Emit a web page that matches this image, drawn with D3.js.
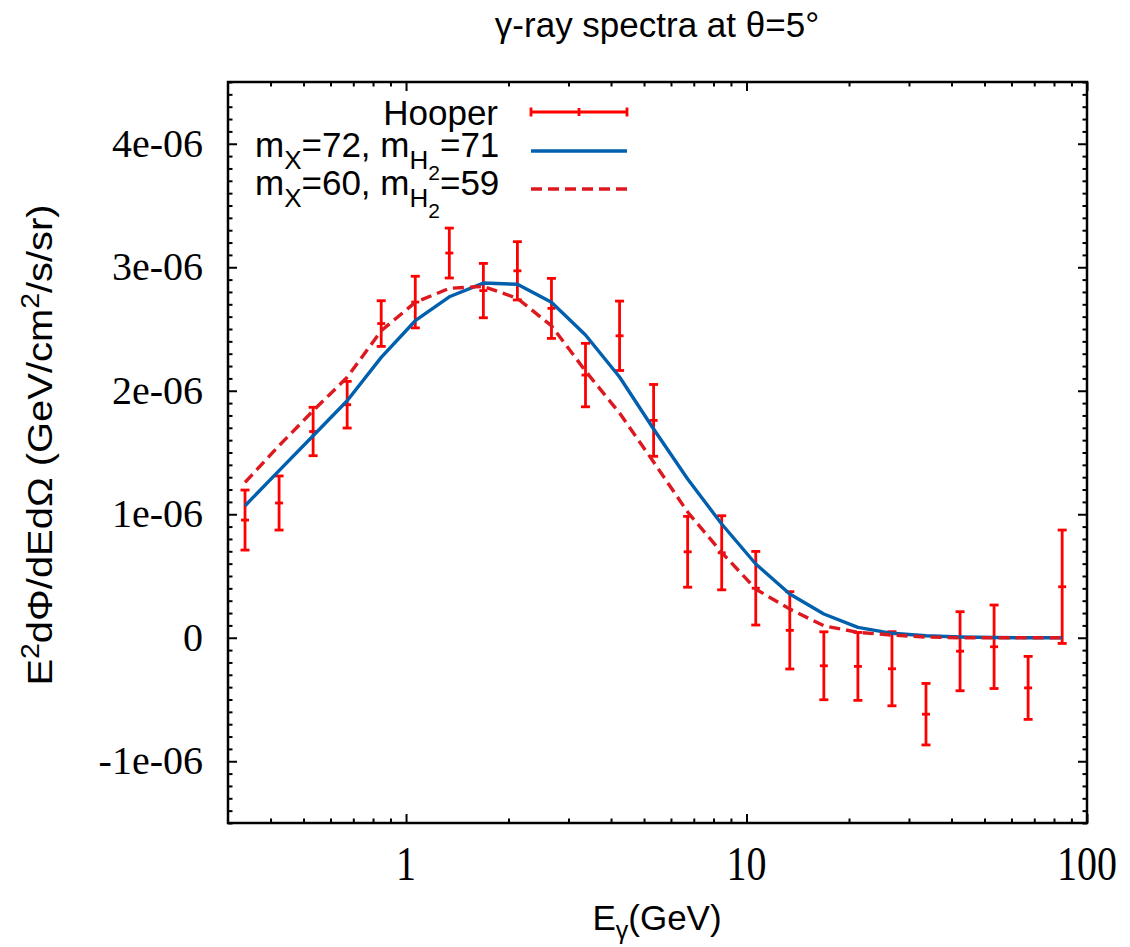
<!DOCTYPE html>
<html>
<head>
<meta charset="utf-8">
<script src="https://cdn.jsdelivr.net/npm/d3@7"></script>
<style>
  body { margin: 0; background: #fff; }
  .sans { font-family: "Liberation Sans", Arial, Helvetica, sans-serif; }
  .serif { font-family: "Liberation Serif", "Times New Roman", serif; }
</style>
</head>
<body>
<svg id="chart"></svg>
<script>
// data (fluxes in units of 1e-6 GeV/cm^2/s/sr)
var energy = [0.3366, 0.4238, 0.5335, 0.6716, 0.8455, 1.0645, 1.3401, 1.687, 2.1238, 2.6738,
              3.366, 4.238, 5.335, 6.716, 8.455, 10.645, 13.40, 16.87, 21.24, 26.74,
              33.66, 42.38, 53.35, 67.16, 84.55];
var hooperFlux = [0.953, 1.091, 1.670, 1.887, 2.544, 2.718, 3.115, 2.811, 2.971, 2.667,
                  2.127, 2.445, 1.760, 0.696, 0.688, 0.401, 0.060, -0.227, -0.232, -0.251,
                  -0.619, -0.109, -0.073, -0.406, 0.413];
var hooperErr = [0.243, 0.219, 0.196, 0.189, 0.185, 0.209, 0.202, 0.220, 0.236, 0.243,
                 0.257, 0.281, 0.291, 0.287, 0.300, 0.298, 0.313, 0.275, 0.275, 0.300,
                 0.249, 0.320, 0.338, 0.255, 0.459];
// m_X=72, m_H2=71
var model72 = [1.069, 1.353, 1.636, 1.919, 2.270, 2.567, 2.761, 2.872, 2.862, 2.716,
               2.451, 2.111, 1.690, 1.285, 0.921, 0.597, 0.354, 0.192, 0.084, 0.036,
               0.016, 0.006, 0.002, 0, 0];
// m_X=60, m_H2=59
var model60 = [1.258, 1.556, 1.838, 2.109, 2.486, 2.716, 2.829, 2.845, 2.748, 2.526,
               2.160, 1.819, 1.423, 1.018, 0.691, 0.394, 0.232, 0.097, 0.044, 0.022,
               0.006, 0, 0, 0, 0];
var unit = 1e-6;

var xMajor = [1, 10, 100];
var xMajorLabels = ["1", "10", "100"];
var xMinor = [0.4, 0.5, 0.6, 0.7, 0.8, 0.9, 2, 3, 4, 5, 6, 7, 8, 9, 20, 30, 40, 50, 60, 70, 80, 90];
var yMajor = [-1e-6, 0, 1e-6, 2e-6, 3e-6, 4e-6];
var yMajorLabels = ["-1e-06", "0", "1e-06", "2e-06", "3e-06", "4e-06"];
var yMinor = d3.range(-15, 46).filter(function(k){ return k % 10 !== 0; }).map(function(k){ return k * 1e-7; });

// basic settings
var width = 1130, height = 947;
var plotLeft = 228, plotRight = 1087, plotTop = 82, plotBottom = 823;
var red = "#ff0000", blue = "#0060ad", darkRed = "#dd181f";

var svg = d3.select("#chart").attr("width", width).attr("height", height);

var x = d3.scaleLog().domain([0.3, 100]).range([plotLeft, plotRight]);
var y = d3.scaleLinear().domain([-1.5e-6, 4.5e-6]).range([plotBottom, plotTop]);

// ticks on all four sides, pointing inward
function tickAxis(axis, vals, size, tx, ty) {
  var g = svg.append("g")
    .attr("transform", "translate(" + tx + "," + ty + ")")
    .call(axis.tickValues(vals).tickSizeInner(-size).tickSizeOuter(0).tickFormat(""));
  g.select(".domain").remove();
  g.selectAll("line").attr("stroke", "#000").attr("stroke-width", 2);
  return g;
}
tickAxis(d3.axisBottom(x), xMinor, 4.5, 0, plotBottom);
tickAxis(d3.axisTop(x), xMinor, 4.5, 0, plotTop);
tickAxis(d3.axisBottom(x), xMajor, 9, 0, plotBottom);
tickAxis(d3.axisTop(x), xMajor, 9, 0, plotTop);
tickAxis(d3.axisLeft(y), yMinor, 4.5, plotLeft, 0);
tickAxis(d3.axisRight(y), yMinor, 4.5, plotRight, 0);
tickAxis(d3.axisLeft(y), yMajor, 9, plotLeft, 0);
tickAxis(d3.axisRight(y), yMajor, 9, plotRight, 0);

// tick labels
svg.append("g").attr("class", "serif")
  .selectAll("text").data(yMajor).enter().append("text")
  .attr("x", plotLeft - 25)
  .attr("y", function(d){ return y(d) + 13; })
  .attr("text-anchor", "end")
  .attr("font-size", 40)
  .text(function(d, i){ return yMajorLabels[i]; });

svg.append("g").attr("class", "serif")
  .selectAll("text").data(xMajor).enter().append("text")
  .attr("transform", function(d){ return "translate(" + x(d) + ",880) scale(1,1.2)"; })
  .attr("text-anchor", "middle")
  .attr("font-size", 40)
  .text(function(d, i){ return xMajorLabels[i]; });

// frame
svg.append("rect")
  .attr("x", plotLeft).attr("y", plotTop)
  .attr("width", plotRight - plotLeft).attr("height", plotBottom - plotTop)
  .attr("fill", "none").attr("stroke", "#000").attr("stroke-width", 2.5);

// Hooper data with error bars
var pts = energy.map(function(e, i){ return {e: e, v: hooperFlux[i] * unit, err: hooperErr[i] * unit}; });
var eb = svg.append("g").attr("stroke", red).attr("stroke-width", 2.8).attr("fill", "none");
var pg = eb.selectAll("g").data(pts).enter().append("g");
pg.append("line")
  .attr("x1", function(d){ return x(d.e); }).attr("x2", function(d){ return x(d.e); })
  .attr("y1", function(d){ return y(d.v - d.err); }).attr("y2", function(d){ return y(d.v + d.err); });
[-1, 1].forEach(function(s){
  pg.append("line")
    .attr("x1", function(d){ return x(d.e) - 4.5; }).attr("x2", function(d){ return x(d.e) + 4.5; })
    .attr("y1", function(d){ return y(d.v + s * d.err); }).attr("y2", function(d){ return y(d.v + s * d.err); });
});
pg.append("line")
  .attr("x1", function(d){ return x(d.e) - 4; }).attr("x2", function(d){ return x(d.e) + 4; })
  .attr("y1", function(d){ return y(d.v); }).attr("y2", function(d){ return y(d.v); });

// model curves
var line = d3.line()
  .x(function(d, i){ return x(energy[i]); })
  .y(function(d){ return y(d * unit); });

svg.append("path").datum(model72)
  .attr("d", line).attr("fill", "none")
  .attr("stroke", blue).attr("stroke-width", 3.4).attr("stroke-linejoin", "round");
svg.append("path").datum(model60)
  .attr("d", line).attr("fill", "none")
  .attr("stroke", darkRed).attr("stroke-width", 3.4).attr("stroke-dasharray", "11,6");

// legend
var lx1 = 531, lx2 = 627;
var leg = svg.append("g").attr("class", "sans").attr("font-size", 35);
leg.append("text").attr("x", 498).attr("y", 125).attr("text-anchor", "end").text("Hooper");
var lh = leg.append("g").attr("stroke", red).attr("stroke-width", 2.8);
lh.append("line").attr("x1", lx1).attr("x2", lx2).attr("y1", 112).attr("y2", 112);
lh.append("line").attr("x1", lx1).attr("x2", lx1).attr("y1", 107.5).attr("y2", 116.5);
lh.append("line").attr("x1", lx2).attr("x2", lx2).attr("y1", 107.5).attr("y2", 116.5);
lh.append("line").attr("x1", (lx1 + lx2) / 2).attr("x2", (lx1 + lx2) / 2).attr("y1", 108).attr("y2", 116);

function massLabel(yb, mx, mh) {
  var t = leg.append("text").attr("x", 255).attr("y", yb);
  t.append("tspan").text("m");
  t.append("tspan").attr("dy", 12).attr("font-size", 26).text("X");
  t.append("tspan").attr("dy", -12).text("=" + mx + ", m");
  t.append("tspan").attr("dy", 12).attr("font-size", 26).text("H");
  t.append("tspan").attr("dy", 11).attr("font-size", 21).text("2");
  t.append("tspan").attr("dy", -23).text("=" + mh);
}
massLabel(157, 72, 71);
massLabel(195, 60, 59);
leg.append("line").attr("x1", lx1).attr("x2", lx2).attr("y1", 151).attr("y2", 151)
  .attr("stroke", blue).attr("stroke-width", 3.4);
leg.append("line").attr("x1", lx1).attr("x2", lx2).attr("y1", 189).attr("y2", 189)
  .attr("stroke", darkRed).attr("stroke-width", 3.4).attr("stroke-dasharray", "11,6");

// title
svg.append("text").attr("class", "sans")
  .attr("x", 657).attr("y", 37).attr("text-anchor", "middle").attr("font-size", 35)
  .text("γ-ray spectra at θ=5°");

// axis labels
var xl = svg.append("text").attr("class", "sans")
  .attr("x", 657).attr("y", 930).attr("text-anchor", "middle").attr("font-size", 35);
xl.append("tspan").text("E");
xl.append("tspan").attr("dy", 9).attr("font-size", 25).text("γ");
xl.append("tspan").attr("dy", -9).text("(GeV)");

var yl = svg.append("text").attr("class", "sans")
  .attr("transform", "translate(52,445) rotate(-90) scale(1.14,1)")
  .attr("text-anchor", "middle").attr("font-size", 35);
yl.append("tspan").text("E");
yl.append("tspan").attr("dy", -13).attr("font-size", 25).text("2");
yl.append("tspan").attr("dy", 13).text("dΦ/dEdΩ (GeV/cm");
yl.append("tspan").attr("dy", -13).attr("font-size", 25).text("2");
yl.append("tspan").attr("dy", 13).text("/s/sr)");
</script>
</body>
</html>
